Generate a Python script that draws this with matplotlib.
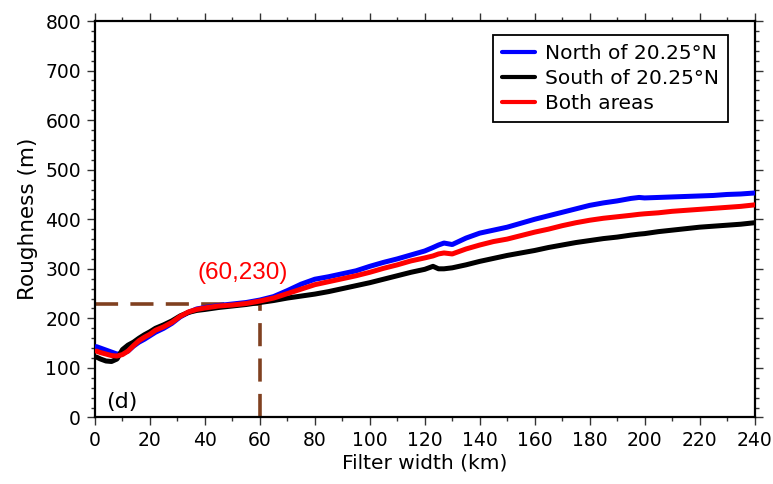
import matplotlib
matplotlib.use("Agg")
import matplotlib.pyplot as plt
from matplotlib.ticker import MultipleLocator

plt.rcParams['font.family'] = ['DejaVu Sans']

filter_width = [0.5, 2, 4, 6, 8, 10, 12, 14, 16, 18, 20, 22, 25, 28, 31, 34, 37, 40,
                45, 50, 55, 60, 65, 70, 75, 80, 85, 90, 95, 100, 105, 110, 115, 120,
                123, 125, 127, 130, 135, 140, 145, 150, 155, 160, 165, 170, 175, 180,
                185, 190, 195, 198, 200, 205, 210, 215, 220, 225, 230, 235, 240]

north = [143, 140, 136, 132, 128, 129, 134, 144, 152, 158, 165, 172, 180, 190, 203, 212, 219, 222,
         226, 229, 232, 237, 244, 256, 269, 279, 284, 290, 296, 305, 313, 320, 328, 336,
         343, 348, 352, 349, 362, 372, 378, 384, 392, 400, 407, 414, 421, 428,
         433, 437, 442, 444, 443, 444, 445, 446, 447, 448, 450, 451, 453]

south = [122, 118, 114, 113, 118, 137, 146, 152, 160, 167, 173, 180, 187, 195, 205, 212, 216, 218,
         222, 225, 228, 232, 236, 241, 245, 249, 254, 260, 266, 272, 279, 286, 293, 299,
         305, 300, 300, 302, 308, 315, 321, 327, 332, 337, 343, 348, 353, 357,
         361, 364, 368, 370, 371, 375, 378, 381, 384, 386, 388, 390, 393]

both = [134, 131, 128, 125, 124, 127, 134, 145, 155, 162, 168, 176, 183, 192, 204, 213, 218, 221,
        225, 227, 230, 235, 241, 250, 259, 268, 274, 280, 286, 293, 301, 308, 316, 322,
        326, 330, 332, 330, 340, 348, 355, 360, 367, 374, 380, 387, 393, 398,
        402, 405, 408, 410, 411, 413, 416, 418, 420, 422, 424, 426, 429]

labels = ['North of 20.25°N', 'South of 20.25°N', 'Both areas']
mark_x, mark_y = 60, 230

fig = plt.figure(figsize=(7.73, 4.84), dpi=100)
ax = fig.add_axes([0.1229, 0.1374, 0.8532, 0.8192])

lw = 3.6
ax.plot(filter_width, north, color='#0000ff', lw=lw, label=labels[0], solid_capstyle='round', zorder=3)
ax.plot(filter_width, south, color='#000000', lw=lw, label=labels[1], solid_capstyle='round', zorder=3)
ax.plot(filter_width, both, color='#ff0000', lw=lw, label=labels[2], solid_capstyle='round', zorder=4)

brown = '#804020'
ax.plot([0, mark_x], [mark_y, mark_y], color=brown, lw=2.6, dashes=(6.4, 3.4), zorder=2)
ax.plot([mark_x, mark_x], [0, mark_y], color=brown, lw=2.6, dashes=(6.4, 3.4), zorder=2)
ax.text(37.3, 291, f'({mark_x},{mark_y})', color='#ff0000', fontsize=17.5,
        family=['Liberation Sans', 'DejaVu Sans'], va='center', ha='left')
ax.text(4, 32, '(d)', fontsize=16, va='center', ha='left')

ax.set_xlim(0, 240)
ax.set_ylim(0, 800)
ax.xaxis.set_major_locator(MultipleLocator(20))
ax.xaxis.set_minor_locator(MultipleLocator(10))
ax.yaxis.set_major_locator(MultipleLocator(100))
ax.yaxis.set_minor_locator(MultipleLocator(20))
ax.tick_params(which='both', direction='out', top=True, right=True, labelsize=13.5, width=1.0, color='#333333')
ax.tick_params(which='major', length=6, pad=4)
ax.tick_params(which='minor', length=3)
for s in ax.spines.values():
    s.set_linewidth(1.6)

ax.set_xlabel('Filter width (km)', fontsize=14.5, labelpad=2)
ax.set_ylabel('Roughness (m)', fontsize=15.5, labelpad=5)

leg = ax.legend(loc='upper right', bbox_to_anchor=(0.960, 0.965), fontsize=14.5, frameon=True,
                fancybox=False, framealpha=1, edgecolor='black', handlelength=1.65,
                handletextpad=0.5, borderpad=0.45, labelspacing=0.3, borderaxespad=0)
leg.get_frame().set_linewidth(1.3)
for h in leg.get_lines():
    h.set_linewidth(3)

fig.savefig('out.png', dpi=100)
